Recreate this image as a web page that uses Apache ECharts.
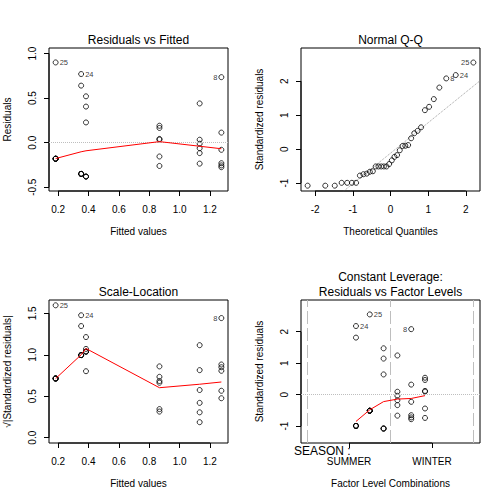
<!DOCTYPE html>
<html><head><meta charset="utf-8">
<script src="https://cdn.jsdelivr.net/npm/echarts@6/dist/echarts.min.js"></script>
<style>html,body{margin:0;padding:0;background:#fff}#c{width:504px;height:504px}</style>
</head><body><div id="c"></div>
<script>
// ---------- data ----------
// six factor-level groups (fitted value of each group)
const fittedLevels = [0.183, 0.351, 0.383, 0.867, 1.132, 1.275];
// residuals of each group (panel 1)
const residuals = [
  [0.90, -0.18, -0.18, -0.18, -0.18, -0.18],
  [0.77, 0.64, -0.35, -0.35, -0.35, -0.35],
  [0.52, 0.405, 0.227, -0.38, -0.38, -0.38],
  [0.19, 0.165, 0.042, 0.035, -0.155, -0.261],
  [0.44, 0.033, -0.012, -0.062, -0.117, -0.235],
  [0.735, 0.113, -0.08, -0.23, -0.255, -0.275]
];
// sqrt(|standardized residuals|) of each group (panel 3)
const sqrtAbsStdRes = [
  [1.597, 0.714, 0.714, 0.714, 0.714, 0.714],
  [1.477, 1.347, 0.996, 0.996, 0.996, 0.996],
  [1.214, 1.071, 0.802, 1.038, 1.038, 1.038],
  [0.734, 0.684, 0.345, 0.315, 0.663, 0.860],
  [1.116, 0.306, 0.187, 0.420, 0.575, 0.815],
  [1.443, 0.566, 0.476, 0.807, 0.850, 0.883]
];
// standardized residuals of each group (panel 4) and its x position on the factor axis
const stdResiduals = [
  [2.550, -0.510, -0.510, -0.510, -0.510, -0.510],
  [2.181, 1.813, -0.992, -0.992, -0.992, -0.992],
  [1.473, 1.147, 0.643, -1.076, -1.076, -1.076],
  [0.538, 0.467, 0.119, 0.099, -0.439, -0.739],
  [1.246, 0.093, -0.034, -0.176, -0.331, -0.666],
  [2.082, 0.320, -0.227, -0.652, -0.722, -0.779]
];
const factorPositions = [1.75, 1.25, 2.25, 3.75, 2.75, 3.25];
// id label attached to the first point of a group (null = none)
const groupLabels = ['25', '24', null, null, null, '8'];

// Normal Q-Q
const qqTheoretical = [-2.200,-1.732,-1.480,-1.297,-1.150,-1.025,-0.913,-0.812,-0.719,-0.631,-0.548,-0.469,-0.393,-0.319,-0.246,-0.175,-0.105,-0.035,0.035,0.105,0.175,0.246,0.319,0.393,0.469,0.548,0.631,0.719,0.812,0.913,1.025,1.150,1.297,1.480,1.732,2.200];
const qqSample = [-1.076,-1.076,-1.076,-0.992,-0.992,-0.992,-0.992,-0.779,-0.739,-0.722,-0.666,-0.652,-0.510,-0.510,-0.510,-0.510,-0.510,-0.439,-0.331,-0.227,-0.176,-0.034,0.093,0.099,0.119,0.320,0.467,0.538,0.643,1.147,1.246,1.473,1.813,2.082,2.181,2.550];
const qqLabelIndex = [33, 34, 35];
const qqLabelText = ['8', '24', '25'];
const qqLineIntercept = -0.12;
const qqLineSlope = 0.898;

// red smoothers
const smoothResid = [-0.178, -0.102, -0.091, 0.012, -0.040, -0.068];
const smoothScale = [0.713, 1.000, 1.076, 0.603, 0.645, 0.672];
const smoothFactorX = [1.25, 1.75, 2.25, 2.75, 3.25, 3.75];
const smoothFactor = [-0.85, -0.48, -0.22, -0.14, -0.12, -0.03];

// axes: limits and ticks
const limFittedX = [0.1393, 1.3187];
const limResidY = [-0.542, 1.062];
const limQQX = [-2.376, 2.376];
const limQQY = [-1.233, 2.978];
const limScaleY = [-0.064, 1.661];
const limFactorX = [-0.74, 5.74];
const limFactorY = [-1.535, 3.008];
const ticksFitted = [0.2, 0.4, 0.6, 0.8, 1.0, 1.2];
const ticksResid = [-0.5, 0.0, 0.5, 1.0];
const ticksQQX = [-2, -1, 0, 1, 2];
const ticksStd = [-1, 0, 1, 2];
const ticksScale = [0.0, 0.5, 1.0, 1.5];
const factorLevels = ['SUMMER', 'WINTER'];
const factorTickPos = [1, 4];
const factorBoundaries = [-0.5, 2.5, 5.5];

// ---------- chart ----------
const FONT = "'Liberation Sans', Arial, Helvetica, sans-serif";
const grids = [
  {left: 49, top: 48, width: 179, height: 143},
  {left: 301, top: 48, width: 179, height: 143},
  {left: 49, top: 300, width: 179, height: 143},
  {left: 301, top: 300, width: 179, height: 143}
];
const f1 = v => Number(v).toFixed(1);
const f0 = v => String(Math.round(v));

function xAxisDef(gi, lim, ticks, fmt, name) {
  return {
    type: 'value', gridIndex: gi, min: lim[0], max: lim[1], position: 'bottom',
    axisLine: {show: false, onZero: false}, splitLine: {show: false}, minorTick: {show: false},
    axisTick: {show: true, inside: false, length: 5, customValues: ticks, lineStyle: {color: '#000', width: 1}},
    axisLabel: {show: true, customValues: ticks, formatter: fmt, margin: 13, fontSize: 10, color: '#000', fontFamily: FONT},
    name: name, nameLocation: 'middle', nameGap: 35, nameMoveOverlap: false,
    nameTextStyle: {fontSize: 10, color: '#000', fontFamily: FONT}
  };
}
function yAxisDef(gi, lim, ticks, fmt, name) {
  return {
    type: 'value', gridIndex: gi, min: lim[0], max: lim[1], position: 'left',
    axisLine: {show: false, onZero: false}, splitLine: {show: false}, minorTick: {show: false},
    axisTick: {show: true, inside: false, length: 5, customValues: ticks, lineStyle: {color: '#000', width: 1}},
    axisLabel: {show: true, customValues: ticks, formatter: fmt, rotate: 90, margin: 12, fontSize: 10, color: '#000', fontFamily: FONT},
    name: name, nameLocation: 'middle', nameGap: 37, nameMoveOverlap: false,
    nameTextStyle: {fontSize: 10, color: '#000', fontFamily: FONT}
  };
}

function labelStyle(text, side) {
  return {show: true, position: side, distance: 1, formatter: text, fontSize: 7.5, color: '#000', fontFamily: FONT};
}
function sideFor(x, xs) {
  const mid = (Math.min(...xs) + Math.max(...xs)) / 2;
  return x > mid ? 'left' : 'right';
}

function groupPoints(xs, ys) {
  const labeledX = [];
  groupLabels.forEach((l, g) => { if (l) labeledX.push(xs[g]); });
  const data = [];
  ys.forEach((arr, g) => {
    arr.forEach((y, i) => {
      const item = {value: [xs[g], y]};
      if (i === 0 && groupLabels[g]) item.label = labelStyle(groupLabels[g], sideFor(xs[g], labeledX));
      data.push(item);
    });
  });
  return data;
}

function pointsSeries(gi, data, markLineData) {
  const s = {
    type: 'scatter', xAxisIndex: gi, yAxisIndex: gi, symbol: 'circle', symbolSize: 5,
    itemStyle: {color: 'rgba(0,0,0,0)', borderColor: '#000', borderWidth: 1},
    data: data, silent: true, z: 4, clip: false
  };
  if (markLineData) {
    s.markLine = {silent: true, symbol: ['none', 'none'], label: {show: false}, animation: false, data: markLineData};
  }
  return s;
}
function lineSeries(gi, data, color, z, clip, type) {
  return {
    type: 'line', xAxisIndex: gi, yAxisIndex: gi, data: data, symbol: 'none', showSymbol: false, silent: true,
    lineStyle: {color: color, width: 1, type: type || 'solid'}, z: z, clip: clip
  };
}
function frameSeries(gi, xlim, ylim, xt, yt) {
  return [
    lineSeries(gi, [[xt[0], ylim[0]], [xt[xt.length - 1], ylim[0]]], '#000', 2, false),
    lineSeries(gi, [[xlim[0], yt[0]], [xlim[0], yt[yt.length - 1]]], '#000', 2, false)
  ];
}

const zeroLine = {yAxis: 0, lineStyle: {color: '#bebebe', type: 'dotted', width: 1}};

// panel 1
const p1 = groupPoints(fittedLevels, residuals);
// panel 3
const p3 = groupPoints(fittedLevels, sqrtAbsStdRes);
// panel 4
const p4 = groupPoints(factorPositions, stdResiduals);
// panel 2
const qqLabeledX = qqLabelIndex.map(i => qqTheoretical[i]);
const p2 = qqTheoretical.map((x, i) => {
  const item = {value: [x, qqSample[i]]};
  const k = qqLabelIndex.indexOf(i);
  if (k >= 0) item.label = labelStyle(qqLabelText[k], sideFor(x, qqLabeledX));
  return item;
});
const qqLine = [limQQX[0], limQQX[1]].map(x => [x, qqLineIntercept + qqLineSlope * x]);

const series = [
  pointsSeries(0, p1, [zeroLine]),
  lineSeries(0, fittedLevels.map((x, i) => [x, smoothResid[i]]), '#ff0000', 5, true),
  ...frameSeries(0, limFittedX, limResidY, ticksFitted, ticksResid),

  pointsSeries(1, p2),
  lineSeries(1, qqLine, '#a0a0a0', 1, true, 'dotted'),
  ...frameSeries(1, limQQX, limQQY, ticksQQX, ticksStd),

  pointsSeries(2, p3),
  lineSeries(2, fittedLevels.map((x, i) => [x, smoothScale[i]]), '#ff0000', 5, true),
  ...frameSeries(2, limFittedX, limScaleY, ticksFitted, ticksScale),

  pointsSeries(3, p4, [zeroLine].concat(factorBoundaries.map(v => ({xAxis: v, lineStyle: {color: '#bebebe', type: [13, 4], width: 1}})))),
  lineSeries(3, smoothFactorX.map((x, i) => [x, smoothFactor[i]]), '#ff0000', 5, true),
  ...frameSeries(3, limFactorX, limFactorY, factorTickPos, ticksStd)
];

function titleText(text, x, y, size) {
  return {type: 'text', x: x, y: y, silent: true,
    style: {text: text, fill: '#000', fontSize: size, fontFamily: FONT,
      align: 'center', verticalAlign: 'middle', textAlign: 'center', textVerticalAlign: 'middle'}};
}

const option = {
  animation: false,
  backgroundColor: '#fff',
  grid: grids.map(g => Object.assign({show: true, borderColor: '#000', borderWidth: 1, backgroundColor: 'transparent', containLabel: false, outerBoundsMode: 'none'}, g)),
  xAxis: [
    xAxisDef(0, limFittedX, ticksFitted, f1, 'Fitted values'),
    xAxisDef(1, limQQX, ticksQQX, f0, 'Theoretical Quantiles'),
    xAxisDef(2, limFittedX, ticksFitted, f1, 'Fitted values'),
    xAxisDef(3, limFactorX, factorTickPos, v => factorLevels[factorTickPos.indexOf(Math.round(v))], 'Factor Level Combinations')
  ],
  yAxis: [
    yAxisDef(0, limResidY, ticksResid, f1, 'Residuals'),
    yAxisDef(1, limQQY, ticksStd, f0, 'Standardized residuals'),
    yAxisDef(2, limScaleY, ticksScale, f1, '√|Standardized residuals|'),
    yAxisDef(3, limFactorY, ticksStd, f0, 'Standardized residuals')
  ],
  graphic: [
    titleText('Residuals vs Fitted', 138.5, 40, 12),
    titleText('Normal Q-Q', 390.5, 40, 12),
    titleText('Scale-Location', 138.5, 292, 12),
    titleText('Constant Leverage:', 390.5, 277, 12),
    titleText('Residuals vs Factor Levels', 390.5, 292, 12),
    {type: 'text', x: 294, y: 450.5, silent: true,
      style: {text: 'SEASON :', fill: '#000', fontSize: 12, fontFamily: FONT,
        align: 'left', verticalAlign: 'middle', textAlign: 'left', textVerticalAlign: 'middle'}}
  ],
  series: series
};

const chart = echarts.init(document.getElementById('c'), null, {renderer: 'svg', width: 504, height: 504});
chart.setOption(option);
</script>
</body></html>
